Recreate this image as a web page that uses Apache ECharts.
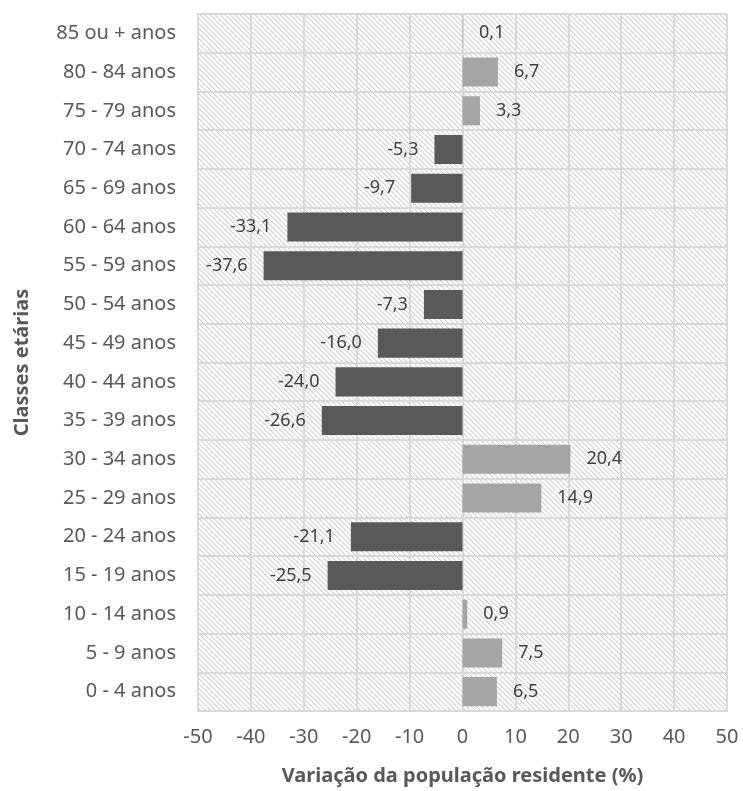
<!DOCTYPE html>
<html><head><meta charset="utf-8">
<script src="https://cdn.jsdelivr.net/npm/echarts@6/dist/echarts.min.js"></script>
<style>html,body{margin:0;padding:0;background:#fff}#c{width:743px;height:791px}</style>
</head><body><div id="c"></div>
<script>
const categories = ['0 - 4 anos','5 - 9 anos','10 - 14 anos','15 - 19 anos','20 - 24 anos','25 - 29 anos','30 - 34 anos','35 - 39 anos','40 - 44 anos','45 - 49 anos','50 - 54 anos','55 - 59 anos','60 - 64 anos','65 - 69 anos','70 - 74 anos','75 - 79 anos','80 - 84 anos','85 ou + anos'];
const values = [6.5, 7.5, 0.9, -25.5, -21.1, 14.9, 20.4, -26.6, -24.0, -16.0, -7.3, -37.6, -33.1, -9.7, -5.3, 3.3, 6.7, 0.1];
const xTicks = [-50,-40,-30,-20,-10,0,10,20,30,40,50];

// hatch pattern
const tile = document.createElement('canvas');
const N = 5; tile.width = N; tile.height = N;
const g = tile.getContext('2d');
g.fillStyle = '#ffffff'; g.fillRect(0,0,N,N);
for (let i = 0; i < N; i++) {
  g.fillStyle = '#d2d2d2'; g.fillRect(i, i, 1, 1);
  g.fillStyle = '#ebebeb'; g.fillRect((i+1)%N, i, 1, 1);
}

const FONT = 'Noto Sans';
const chart = echarts.init(document.getElementById('c'), null, {renderer:'canvas'});
const data = values.map(v => ({
  value: v,
  itemStyle: { color: v >= 0 ? '#a5a5a5' : '#595959' },
  label: { position: v >= 0 ? 'right' : 'left' }
}));
chart.setOption({
  animation: false,
  grid: { left: 198, right: 16, top: 14, bottom: 79, show: true,
    backgroundColor: { image: tile, repeat: 'repeat' }, borderColor: '#d9d9d9', borderWidth: 2 },
  xAxis: {
    type: 'value', min: -50, max: 50, interval: 10,
    axisLine: { show: false }, axisTick: { show: false },
    splitLine: { show: true, lineStyle: { color: '#d9d9d9', width: 2 } },
    axisLabel: { color: '#595959', fontFamily: FONT, fontSize: 20, margin: 16,
      formatter: v => xTicks.includes(v) ? String(v) : '' },
    name: 'Variação da população residente (%)', nameLocation: 'middle', nameGap: 55,
    nameTextStyle: { color: '#595959', fontFamily: FONT, fontSize: 20, fontWeight: 'bold' }
  },
  yAxis: {
    type: 'category', data: categories,
    axisLine: { show: false }, axisTick: { show: false },
    splitLine: { show: true, lineStyle: { color: '#d9d9d9', width: 2 } },
    axisLabel: { color: '#595959', fontFamily: FONT, fontSize: 20, margin: 22 },
    name: 'Classes etárias', nameLocation: 'middle', nameGap: 166, nameRotate: 90,
    nameTextStyle: { color: '#595959', fontFamily: FONT, fontSize: 20, fontWeight: 'bold' }
  },
  series: [{
    type: 'bar', data: data, barCategoryGap: '25%',
    label: { show: true, distance: 16, color: '#404040', fontFamily: FONT, fontSize: 18,
      formatter: p => p.value.toFixed(1).replace('.', ',') }
  }]
});
</script></body></html>
